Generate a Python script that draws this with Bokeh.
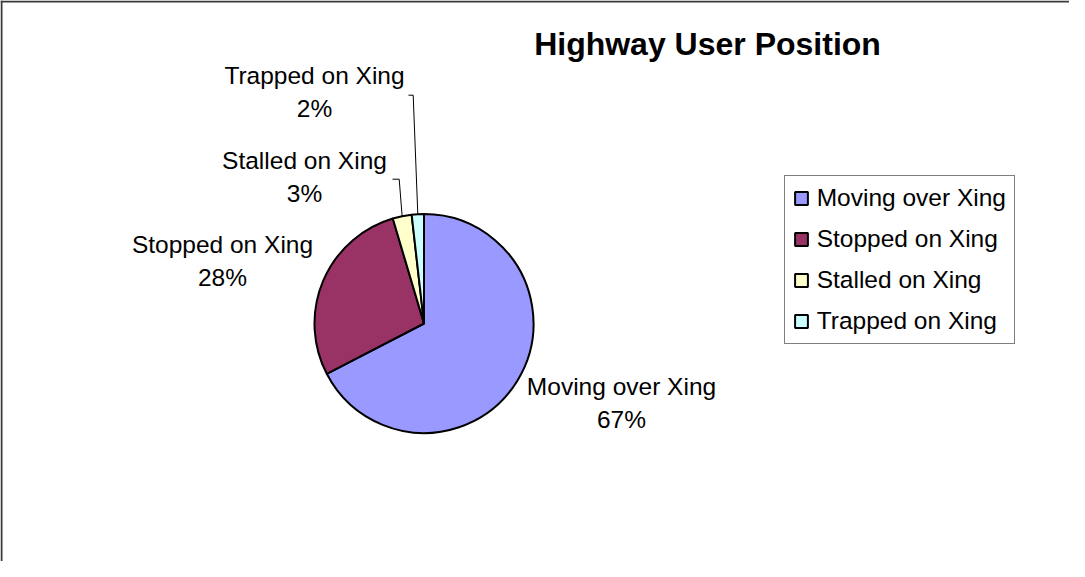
import math
from bokeh.plotting import figure
from bokeh.models import Range1d, Legend, LegendItem, Span, ColumnDataSource
from bokeh.core.properties import value
from bokeh.embed import file_html
from bokeh.resources import INLINE

# ---------------- data ----------------
categories = ["Moving over Xing", "Stopped on Xing", "Stalled on Xing", "Trapped on Xing"]
shares = [67.4, 28.0, 2.8, 1.8]
colors = ["#9999FF", "#993366", "#FFFFCC", "#CCFFFF"]
title_text = "Highway User Position"

# ---------------- layout (page pixels) ----------------
W, H = 1069, 561
FONT = "Liberation Sans"
LABEL_SIZE = 24.5
TITLE_SIZE = 32
cx, cy, R = 431.5, 331.0, 109.5
# label anchor: (center x, baseline y of first line)
label_pos = [(629, 403), (230, 261), (312, 177), (322, 92)]
line_gap = 33
# leader lines: (bend point, end point) or None
leaders = [None, None, ((406.7, 186.7), (400.0, 186.7)), ((420.7, 102.7), (416.0, 102.7))]

Y = lambda y: -y  # page y (down) -> data y (up)
MID = lambda base, size: base - 0.35 * size  # baseline -> middle of em box

p = figure(width=W, height=H, output_backend="svg", toolbar_location=None,
           x_range=Range1d(8, 8 + W), y_range=Range1d(-(8 + H), -8),
           min_border=0, outline_line_color=None)
p.xaxis.visible = False
p.yaxis.visible = False
p.grid.visible = False
p.background_fill_color = "white"
p.border_fill_color = "white"

# chart-area frame (top and left visible, rest cut off)
p.add_layout(Span(location=Y(9), dimension="width", line_color="#3a3a3a", line_width=2))
p.add_layout(Span(location=9, dimension="height", line_color="#3a3a3a", line_width=2))

# wedges
total = sum(shares)
starts, ends, mids = [], [], []
cum = 0.0
for v in shares:
    a0 = math.pi / 2 - 2 * math.pi * cum / total
    cum += v
    a1 = math.pi / 2 - 2 * math.pi * cum / total
    starts.append(a0)
    ends.append(a1)
    mids.append((a0 + a1) / 2)

src = ColumnDataSource(dict(cat=categories, v=shares, color=colors, start=starts, end=ends,
                            x=[cx] * len(shares), y=[Y(cy)] * len(shares)))
wr = p.wedge(x="x", y="y", radius=R, start_angle="start", end_angle="end", direction="clock",
             fill_color="color", line_color="black", line_width=2, source=src)

# leader lines
lx, ly = [], []
for i, ld in enumerate(leaders):
    if ld is None:
        continue
    ex = cx + R * math.cos(mids[i])
    ey = Y(cy) + R * math.sin(mids[i])
    (bx, by), (tx, ty) = ld
    lx.append([ex, bx, tx])
    ly.append([ey, Y(by), Y(ty)])
p.multi_line(xs=lx, ys=ly, line_color="black", line_width=1)

# data labels
p.text(x=[lp[0] for lp in label_pos], y=[Y(MID(lp[1], LABEL_SIZE)) for lp in label_pos],
       text=categories, text_font=value(FONT), text_font_size=f"{LABEL_SIZE}px",
       text_align="center", text_baseline="middle", text_color="black")
p.text(x=[lp[0] for lp in label_pos], y=[Y(MID(lp[1] + line_gap, LABEL_SIZE)) for lp in label_pos],
       text=[f"{round(v / total * 100)}%" for v in shares],
       text_font=value(FONT), text_font_size=f"{LABEL_SIZE}px", text_align="center",
       text_baseline="middle", text_color="black")

# title
p.text(x=[715], y=[Y(MID(63, TITLE_SIZE))], text=[title_text], text_font=value(FONT),
       text_font_size=f"{TITLE_SIZE}px", text_font_style="bold", text_align="center",
       text_baseline="middle", text_color="black")

# legend
items = [LegendItem(label=c, renderers=[wr], index=i) for i, c in enumerate(categories)]
legend = Legend(items=items, location=(783.7, H - (351.7 - 8)),
                label_text_font=FONT, label_text_font_size=f"{LABEL_SIZE}px",
                label_text_color="black",
                glyph_width=16, glyph_height=16, label_standoff=8, padding=8, spacing=13,
                margin=0, border_line_color="black", border_line_width=1.5,
                background_fill_color="white", background_fill_alpha=1.0)
p.add_layout(legend, "center")

open("out.html", "w").write(file_html(p, INLINE))
